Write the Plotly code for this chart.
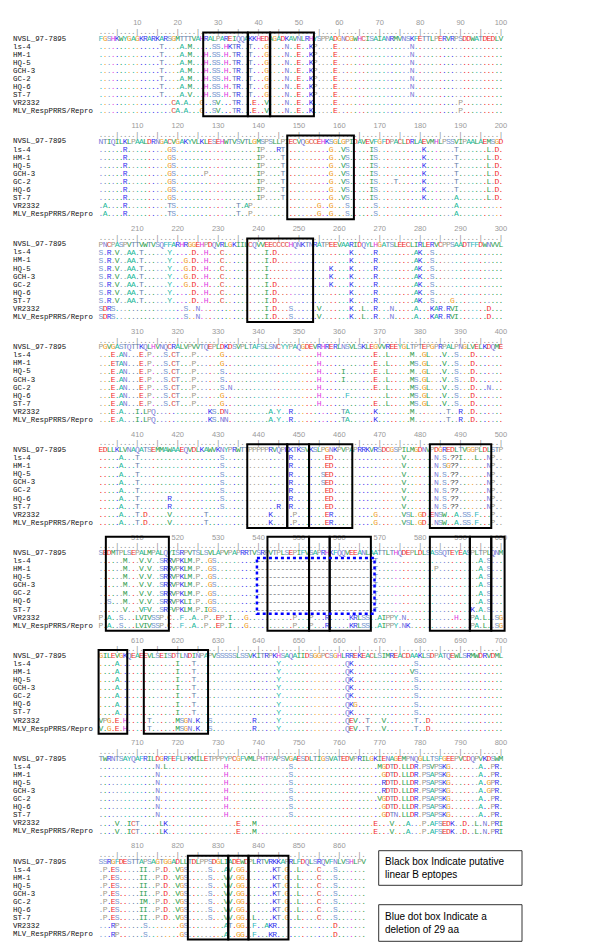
import plotly.graph_objects as go

NAMES = ["NVSL_97-7895", "ls-4", "HM-1", "HQ-5", "GCH-3", "GC-2", "HQ-6", "ST-7",
         "VR2332", "MLV_RespPRRS/Repro"]

REF_1 = "FGSHKWYGAGKRARKARSGMTTTVAHRALPAREIQQAKKHEDAGADKAVNLRHYSPPADGNCGWHCISAIANRMVNSKFETTLPERVRPSDDWATDEDLV"
VAR_1 = [
    "16T 21A 23M 29SS 32HKTR 38T 42G 47N 50E 53KP 59E 78N",
    "16T 21A 23M 27H 29SS 32H 34TR 38T 42G 47N 50E 53KP 59E 78N",
    "16T 21A 23M 27H 29SS 32H 34TR 38T 42G 47N 50E 53KP 59E 78N",
    "16T 21A 23M 27H 29SS 32H 34TR 38T 42G 47N 50E 53KP 59E 78N",
    "16T 21A 23M 27H 29SS 32H 34TR 38T 42G 47N 50E 53KP 59E 78N",
    "16T 21A 23M 27H 29SS 32H 34TR 38T 42G 47N 50E 53KP 59E 78N",
    "16T 21A 23V 27H 29SS 32H 34TR 38T 42G 47N 50E 53KP 59E 78N",
    "19CA 22A 26G 29SV 34TR 39E 42V 47N 50E 53K 59E 90P",
    "19CA 22A 26G 29SV 34TR 39E 42V 47N 50E 53K 59E 90P",
]
BOX_1 = [(26.3, 37.3), (37.4, 42.8), (42.9, 53.7)]

REF_2 = "NTIQILKLPAALDRNGACVGAKYVLKLESEHWTVSVTLGMSPSLLPIECVQGCCEHKSGLGPIDAVEVFGFDPACLDRLAEVMHLPSSVIPAALAEMSGD"
VAR_2 = [
    "7R 18GS 40IP 45RT 58G 61VS 68IS 81K 89T 97L 99D",
    "7R 18GS 40IP 46T 58G 61VS 68IS 81K 89T 97L 99D",
    "7R 18GS 40IP 46T 58G 61VS 68IS 81K 89T 97L 99D",
    "7R 18GS 27P 40IP 46T 58G 61VS 68IS 81K 89T 97L 99D",
    "7R 18GS 40IP 46T 58G 61VS 68IS 74T 81K 89T 97L 99D",
    "7R 18GS 40IP 46T 58G 61VS 68IS 81K 89T 97L 99D",
    "7R 18GS 40IP 46T 58G 61VS 68IS 81K 89A 97L 99D",
    "2A 7R 18TS 35T 37AP 55G 58G 62S 69S 89A",
    "2A 7R 18TS 35T 38P 55G 58G 62S 69S 89A",
]
BOX_2 = [(47.1, 63.6)]

REF_3 = "PNCPASPVTTVWTVSQFFARHRGGEHPDQVRLGKIILCQVVEECCCCHQNKTNRATPEEVAARIDQYLHGATSLEECLIRLERVCPPSAADTFFDWNVVL"
VAR_3 = [
    "1S 3R 5V 8AA 11T 18Y 24D 27H 31C 42I 44D 63K 69R 79AK 83S",
    "1S 3R 5V 8AA 11T 18Y 22G 24D 27H 31C 42I 44D 63K 69R 79AK 83S",
    "1S 3R 5V 8AA 11T 18Y 22G 24D 27H 31C 42I 58K 63K 69R 79AK 83S",
    "1S 3R 5V 8AA 11T 18Y 22G 24D 27H 31C 42I 58K 63K 69R 79AK 83S",
    "1S 3R 5V 8AA 11T 18Y 22G 24D 27H 31C 42I 44D 58K 63K 69R 79AK 83S",
    "1S 3R 5V 8AA 11T 18Y 24D 27H 31C 42I 44D 63K 69R 79AK 83S",
    "1S 3R 5V 8AA 11T 18Y 24D 27H 31C 42I 44D 63K 69R 79AK 83S 88G",
    "1SDRS 22S 25N 42I 44D 48S 55V 63K 66L 69R 73N 79A 83KAR 87RVI 97D",
    "1SDRS 22S 25N 42I 44D 48S 55V 63K 66L 69R 73N 79A 83KAR 87RVI 97D",
]
BOX_3 = [(37.2, 53.5)]

REF_4 = "PGVGASTQTTKQLHVNQCRALVPVVTQEPLDKDSVPLTAFSLSNCYYPAQGDEVRHRERLNSVLSKLEGVVREEYGLTPTEPGPRPALPNGLVELKDQME"
VAR_4 = [
    "4E 6AN 11E 13P 17S 19CT 24P 31G 55H 69E 72L 78M 81GL 86V 89S 93D",
    "4ETAN 11E 13P 17S 19CT 24P 31G 55H 69E 72L 78MS 81GL 86V 89S 93D",
    "4E 6AN 11E 13P 17S 19CT 24P 31S 55H 61I 69E 72L 78M 81GL 86V 89S 93D",
    "4E 6AN 11E 13P 17S 19CT 24P 31S 55H 61I 69E 72L 78MS 81GL 86V 89S 93D",
    "4E 6AN 11E 13P 17S 19CT 24P 31S 33N 55H 69E 72L 78MS 81GL 86V 89S 93D 97N",
    "4E 6AN 11E 13P 17S 19CT 24P 31G 55H 62F 72L 78MS 81GL 86V 89S 93D",
    "4E 6AN 11E 13P 17S 19CT 24P 31G 55H 69E 72L 78MS 81GL 86V 89S 93D",
    "4E 6A 10I 12LPQ 28KS 31DN 43A 45Y 48R 61TA 69K 78M 87T 90R 93D",
    "4E 6A 10I 12LPQ 28KS 31NN 43A 45Y 48R 61TA 69K 78M 87T 90R 93D",
]
BOX_4 = []

REF_5 = "EDLLKLVNAQATSEMMAWAAEQVDLKAWVKNYPRWTTPPPPPRVQPKKTKSVKSLPGNKPVPAPRRKVRSDCGSPILMGDNVPDGREDLTVGGPLDLSTP"
VAR_5 = [
    "6A 10T 31S 48R 57ED 76V 84N 86S 88??I 94L 97NP",
    "6A 10T 31S 48R 57ED 76V 84N 86SG?? 97NP",
    "6A 10T 31S 48R 56SED 76V 84N 86S 88?? 97NP",
    "6A 10T 31S 48R 56SED 76V 84N 86S 88?? 97NP",
    "6A 10T 31S 48R 57ED 76V 84N 86S 88?? 97NP",
    "6A 10T 18R 31S 48R 57ED 76V 84N 86S 88?? 97NP",
    "6A 10T 18R 31S 45R 48R 57ED 76V 84N 86S 88?? 97NP",
    "6A 10T 12D 18V 27T 43K 49P 57ER 69G 76VSL 80GD 83ENSW 89A 91SS 94F 98P",
    "6A 10T 12D 18V 27T 43K 49P 57ER 69G 76VSL 80GD 84NSW 89A 91SS 94F 98P",
]
BOX_5 = [(37.2, 47.1), (47.1, 52.5), (52.5, 63.2), (82.4, 97.6)]

REF_6 = "SEDMTPLSEPALMPALQYISRPVTSLSVLAPVPAPRRTVSRPVTPLSEPIFVSAPRHKFQQVEEANLAATTLTHQDEPLDLSASSQTEYEASPLTPLQNM"
VAR_6 = [
    "7M 11V 13V 16SRRVPKLM 25P 28GS 40----------------------------- 69T 95A 97S",
    "7M 11V 13V 16SRRVPKLM 25P 28GS 40----------------------------- 69T 84P 95A 97S",
    "7M 11V 13V 16SRRVPKLM 25P 28GS 40----------------------------- 69T 95A 97S",
    "7M 11V 13V 16SRRVPKLM 25P 28GS 40----------------------------- 69T 95A 97S",
    "7M 11V 13V 16SRRVPKLM 25P 28GS 40----------------------------- 69T 95A 97S",
    "3S 7M 11V 13V 16SRRVPKLI 25P 28GS 40----------------------------- 69T 95A 97S",
    "7V 11VFV 16SRFVPKLM 25P 27IGS 40----------------------------- 69T 93K 95A 97S",
    "1P 3A 6S 10LVIVSSP 18C 21F 24A 27P 30EP 33I 37G 49P 53P 57R 63KRLSS 70AIPPY 76N 89H 93PA 96L 99SG",
    "1P 3A 6S 10LVIVSSP 18C 21F 24A 27P 30EP 33I 37G 49P 53P 57R 63KRLSS 70AIPPY 76NK 93PA 96L 99SG",
]
BOX_6 = [(2.2, 17.8), (42.2, 52.5), (52.5, 57.6), (57.6, 67.8), (82.4, 92.3), (92.3, 97.6), (97.6, 100.9)]
DELETION_6 = (39.6, 68.7)

REF_7 = "GILEVGKQEAEEVLSEISDTLNDINPAPVSSSSSLSSVKITRPKHSAQAIIDSGGPCSGHLRREKEACLSIMREACDAAKLSDPATQEWLSRMWDRVDML"
VAR_7 = [
    "5A 20I 24T 45Y 62QK 79S",
    "5A 20I 24T 45Y 62QK 78VS",
    "5A 20I 24T 45Y 62QK 79S",
    "5A 20I 24T 45Y 62QK 79S",
    "5A 20I 24T 45Y 62QK 79S",
    "5A 20I 24T 45Y 62QKG 79S",
    "5A 20I 24T 45Y 62QK 79S",
    "1VPG 5E 7H 13T 20MSGN 25K 28S 39R 45Y 62QEV 67T 71V 79T 82D",
    "1V 3G 5E 7H 13T 20MSGN 25K 28S 39R 45Y 62QEV 67T 71V 79T 82D",
]
BOX_7 = [(0.4, 7.5), (11.6, 27.5)]

REF_8 = "TWRNTSAYQAFRILDGRFEFLPKMILETPPPYPCGFVMLPHTPAPSVGAESDLTIGSVATEDVPRILGKIENAGEMPNQGLLTSFGEEPVCDQPVKDSWM"
VAR_8 = [
    "15N 17L 32H 48S 70MGDTD 76LLDR 81PSVPSKG 95A 98PR",
    "15N 32H 48S 71GDTD 76LLDR 81PSAPSKG 95A 98PR",
    "15N 32H 48S 71RDTD 76LLDR 81PSAPSKG 95A 97GPR",
    "15N 32H 48S 71RDTD 76LLDR 81PSAPSKG 95A 97GPR",
    "15N 32H 48S 70VGDTD 76LLDR 81PSAPSKG 95A 98PR",
    "15N 32H 48S 71GDTD 76LLDR 81PSAPSKG 95A 98PR",
    "15N 32H 48S 71GDTN 76LLDR 81PSAPSKG 95A 98PR",
    "5V 8ICT 16LK 35E 39M 69E 73V 77A 81P 83AFSEDK 91D 94L 96N 98PRI",
    "5V 8ICT 16LK 35E 39M 69E 73V 77A 81P 83AFSEDK 91D 94L 96N 98PRI",
]
BOX_8 = []

REF_9 = "SSRGFDESTTAPSAGTGGADLLTDLPPSDGLIADEWDPLRTVRKKAPRLFDQLSRQVFNLVSHLPV"
VAR_9 = [
    "2P 4ES 11II 15P 17D 20VGS 28S 32A 33V 35GG 44KT 47G 50L 55C 59S",
    "2P 4ES 11II 15P 17D 20VGS 28S 32V 33V 35GG 44KT 47G 50L 55C 59S",
    "2P 4ES 11II 15P 17D 20VGS 28S 32V 33V 35GG 44KT 47G 50L 55C 59S",
    "2P 4ES 11II 15P 17D 20VGS 28S 32V 33V 35GG 44KT 47G 50L 55C 59S",
    "2P 4ES 11IM 15P 17D 20VGS 28S 32V 33V 35GG 44KT 47G 50L 55C 59S",
    "2P 4ES 11II 15P 17D 20VGS 28S 32V 33V 35GG 44KT 47G 50L 55C 59S",
    "2P 4ES 11II 15P 17D 20VGS 28S 32V 33V 35GG 39L 44KT 47G 50L 55C 59S",
    "4RP 12S 21GS 32A 33T 35GG 39F 42AKR 59D",
    "4RP 12S 21GS 32A 35GG 39F 43KR 59D",
]
BOX_9 = [(22.5, 32.5), (32.5, 37.5), (37.5, 47.4)]

BLOCKS = [
    (REF_1, VAR_1, BOX_1), (REF_2, VAR_2, BOX_2), (REF_3, VAR_3, BOX_3),
    (REF_4, VAR_4, BOX_4), (REF_5, VAR_5, BOX_5), (REF_6, VAR_6, BOX_6),
    (REF_7, VAR_7, BOX_7), (REF_8, VAR_8, BOX_8), (REF_9, VAR_9, BOX_9),
]

LEGEND_1 = "Black box Indicate putative<br>linear B eptopes"
LEGEND_2 = "Blue dot box Indicate a<br>deletion of 29 aa"

COLORS = {
    'A': '#22b89a', 'C': '#e04a3a', 'D': '#f02a2a', 'E': '#f02a2a', 'F': '#30b8c0',
    'G': '#f0a02a', 'H': '#e03ce0', 'I': '#2e9e50', 'K': '#3232ee', 'L': '#2e9e50',
    'M': '#2e9e50', 'N': '#7878d8', 'P': '#a09a8a', 'Q': '#7878d8', 'R': '#3232ee',
    'S': '#7898d0', 'T': '#6680a8', 'V': '#2e9e50', 'W': '#2e9e50', 'Y': '#22b8a8',
    '?': '#444444', '-': '#606060',
}

# ---- geometry (pixels -> axis units) ----
W, H = 600, 946
X0, DX = 93.0, 4.04          # pixel centre of column 1, column pitch


def col(px):
    return 1 + (px - X0) / DX


RULER_Y0, BLOCK_PITCH = 15.3, 102.9
TICK_OFF, ROW_OFF, ROW_PITCH = 8.7, 15.4, 8.07
SEQ_FONT = "Liberation Mono, Courier New, monospace"


def parse(ref, spec):
    row = ['.'] * len(ref)
    for tok in spec.split():
        i = 0
        while tok[i].isdigit():
            i += 1
        pos = int(tok[:i]) - 1
        for j, ch in enumerate(tok[i:]):
            if 0 <= pos + j < len(row):
                row[pos + j] = ch
    return row


groups = {}
ruler_x, ruler_y, ruler_t = [], [], []
lab_x, lab_y, lab_t = [], [], []
name_x, name_y, name_t = [], [], []
shapes = []


def add(color, x, y, t):
    g = groups.setdefault(color, ([], [], []))
    g[0].append(x)
    g[1].append(y)
    g[2].append(t)


for b, (ref, variants, boxes) in enumerate(BLOCKS):
    ry = RULER_Y0 + b * BLOCK_PITCH
    n = len(ref)
    for k in range(1, n + 1):
        ruler_x.append(k)
        ruler_y.append(ry + TICK_OFF)
        ruler_t.append('|' if k % 5 == 0 else '.')
        if k % 10 == 0:
            lab_x.append(k)
            lab_y.append(ry)
            lab_t.append(str(b * 100 + k))
    rows = [list(ref)] + [parse(ref, v) for v in variants]
    for r, row in enumerate(rows):
        y = ry + ROW_OFF + r * ROW_PITCH
        name_x.append(col(5))
        name_y.append(y)
        name_t.append(NAMES[r])
        for k, ch in enumerate(row):
            if ch == '.':
                c = COLORS.get(ref[k], '#888888')
            else:
                c = COLORS.get(ch, '#444444')
            add(c, k + 1, y, ch)
    top = ry - 1 if b == 5 else ry + 9.3
    for (x0, x1) in boxes:
        shapes.append(dict(type='rect', xref='x', yref='y', x0=x0, x1=x1,
                           y0=top, y1=ry + 93, line=dict(color='black', width=2),
                           fillcolor='rgba(0,0,0,0)'))
    if b == 5:
        d0, d1 = DELETION_6
        shapes.append(dict(type='rect', xref='x', yref='y', x0=d0, x1=d1,
                           y0=ry + ROW_OFF + ROW_PITCH - 3.2,
                           y1=ry + ROW_OFF + 7 * ROW_PITCH + 4,
                           line=dict(color='#0000ff', width=2.5, dash='dot'),
                           fillcolor='rgba(0,0,0,0)'))

fig = go.Figure()
fig.add_trace(go.Scatter(x=ruler_x, y=ruler_y, text=ruler_t, mode='text',
                         textfont=dict(family=SEQ_FONT, size=7.5, color='#8a8a8a'),
                         hoverinfo='skip'))
fig.add_trace(go.Scatter(x=lab_x, y=lab_y, text=lab_t, mode='text',
                         textfont=dict(family="Liberation Sans, Arial, sans-serif", size=7.5,
                                       color='#9a9a9a'),
                         hoverinfo='skip'))
fig.add_trace(go.Scatter(x=name_x, y=name_y, text=name_t, mode='text',
                         textposition='middle right',
                         textfont=dict(family=SEQ_FONT, size=7.4, color='#111111'),
                         hoverinfo='skip'))
for c, (xs, ys, ts) in groups.items():
    fig.add_trace(go.Scatter(x=xs, y=ys, text=ts, mode='text',
                             textfont=dict(family=SEQ_FONT, size=8, color=c),
                             hoverinfo='skip'))

# legend boxes
for (yt, yb, txt) in [(842.7, 877.3, LEGEND_1), (896.7, 933.3, LEGEND_2)]:
    shapes.append(dict(type='rect', xref='x', yref='y', x0=col(370.7), x1=col(514),
                       y0=yt, y1=yb, line=dict(color='#333333', width=1),
                       fillcolor='white'))
    fig.add_annotation(x=col(375), y=(yt + yb) / 2, xref='x', yref='y', text=txt,
                       showarrow=False, xanchor='left', yanchor='middle', align='left',
                       font=dict(family="Liberation Sans, Arial, sans-serif", size=10,
                                 color='black'))

fig.update_layout(
    width=W, height=H, margin=dict(l=0, r=0, t=0, b=0),
    paper_bgcolor='white', plot_bgcolor='white', showlegend=False,
    shapes=shapes,
    xaxis=dict(range=[col(0), col(W)], visible=False, fixedrange=True),
    yaxis=dict(range=[H, 0], visible=False, fixedrange=True),
)
fig.write_html("out.html")
